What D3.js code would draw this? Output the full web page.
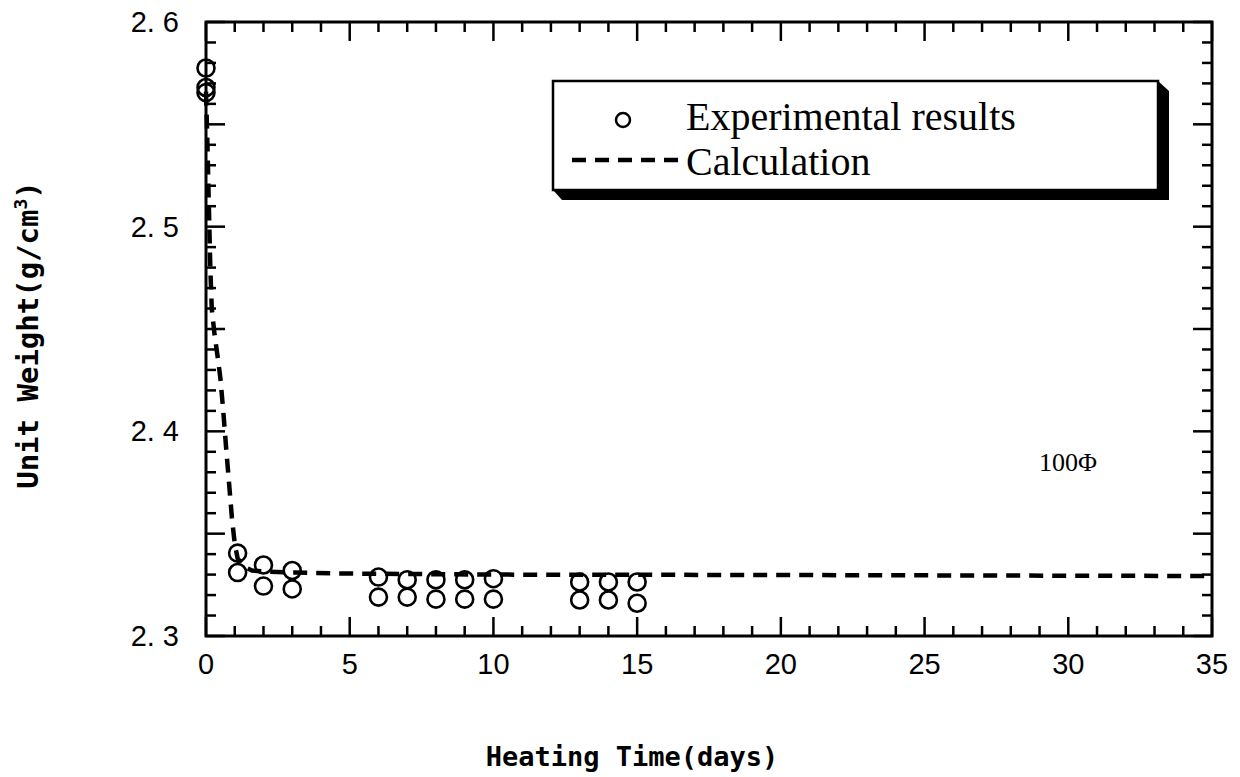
<!DOCTYPE html>
<meta charset="utf-8">
<style>
  body { margin: 0; background: #fff; }
  svg { position: absolute; left: 0; top: 0; }
  .tick-label { font-family: 'Liberation Sans', sans-serif; font-size: 29px; fill: #000; }
  .axis-title { font-family: 'DejaVu Sans Mono', monospace; font-weight: bold; font-size: 27px; fill: #000; }
  .legend-text { font-family: 'Liberation Serif', serif; font-size: 40px; fill: #000; }
</style>
<script src="https://d3js.org/d3.v7.min.js"></script>

<svg width="1240" height="777"></svg>

<script>
  // experimental results (heating time in days, unit weight g/cm3)
  var expDays = [0, 0, 0, 1.1, 1.1, 2, 2, 3, 3, 6, 6, 7, 7, 8, 8, 9, 9, 10, 10, 13, 13, 14, 14, 15, 15];
  var expVals = [2.5775, 2.568, 2.5655, 2.3405, 2.331, 2.3347, 2.3244, 2.332, 2.323,
                 2.3288, 2.319, 2.3275, 2.319, 2.3275, 2.318, 2.3275, 2.318, 2.328, 2.318,
                 2.3264, 2.3176, 2.3264, 2.3176, 2.3264, 2.316];

  // calculation curve
  var calcDays = [0, 0.05, 0.1, 0.15, 0.2, 0.3, 0.4, 0.5, 0.6, 0.7, 0.8, 0.9, 1.0, 1.1, 1.3, 1.6, 2, 3, 5, 10, 20, 35];
  var calcVals = [2.566, 2.54, 2.51, 2.48, 2.46, 2.447, 2.437, 2.426, 2.41, 2.392, 2.375, 2.358, 2.345,
                  2.338, 2.334, 2.332, 2.3315, 2.331, 2.3305, 2.330, 2.3298, 2.3293];

  var xTicks = [0, 5, 10, 15, 20, 25, 30, 35];
  var yTicks = [2.3, 2.4, 2.5, 2.6];
  var yTickText = ["2. 3", "2. 4", "2. 5", "2. 6"];

  var svg = d3.select("svg");
  var x = d3.scaleLinear().domain([0, 35]).range([206, 1212]);
  var y = d3.scaleLinear().domain([2.3, 2.6]).range([636, 22]);

  var x0 = x(0), x1 = x(35), y0 = y(2.3), y1 = y(2.6);

  // inside ticks on all four sides
  var minorX = d3.range(0, 36, 1);
  var ticks = svg.append("g").attr("stroke", "#000").attr("stroke-width", 2.5);
  minorX.forEach(function(d) {
    var len = d % 5 === 0 ? 19 : 10;
    ticks.append("line").attr("x1", x(d)).attr("x2", x(d)).attr("y1", y0).attr("y2", y0 - len);
    ticks.append("line").attr("x1", x(d)).attr("x2", x(d)).attr("y1", y1).attr("y2", y1 + len);
  });
  var minorY = d3.range(0, 31, 1).map(function(i) { return 2.3 + i * 0.01; });
  minorY.forEach(function(d, i) {
    var len = i % 5 === 0 ? 19 : 10;
    ticks.append("line").attr("x1", x0).attr("x2", x0 + len).attr("y1", y(d)).attr("y2", y(d));
    ticks.append("line").attr("x1", x1).attr("x2", x1 - len).attr("y1", y(d)).attr("y2", y(d));
  });

  // frame
  svg.append("rect")
    .attr("x", x0).attr("y", y1)
    .attr("width", x1 - x0).attr("height", y0 - y1)
    .attr("fill", "none").attr("stroke", "#000").attr("stroke-width", 3);

  // tick labels
  svg.selectAll(".xl").data(xTicks).enter().append("text")
    .attr("class", "tick-label")
    .attr("x", function(d) { return x(d); })
    .attr("y", 674)
    .attr("text-anchor", "middle")
    .text(function(d) { return d; });

  svg.selectAll(".yl").data(yTicks).enter().append("text")
    .attr("class", "tick-label")
    .attr("x", 179)
    .attr("y", function(d) { return y(d) + 10; })
    .attr("text-anchor", "end")
    .text(function(d, i) { return yTickText[i]; });

  // axis titles
  svg.append("text")
    .attr("class", "axis-title")
    .attr("x", 632).attr("y", 766)
    .attr("text-anchor", "middle")
    .text("Heating Time(days)");

  var yt = svg.append("text")
    .attr("class", "axis-title")
    .style("font-size", "29px")
    .attr("transform", "translate(38,335) rotate(-90)")
    .attr("text-anchor", "middle");
  yt.append("tspan").text("Unit Weight(g/cm");
  yt.append("tspan").attr("dy", -11).style("font-size", "18px").text("3");
  yt.append("tspan").attr("dy", 11).text(")");

  // calculation line
  var line = d3.line()
    .x(function(d, i) { return x(calcDays[i]); })
    .y(function(d) { return y(d); });
  svg.append("path")
    .attr("d", line(calcVals))
    .attr("fill", "none")
    .attr("stroke", "#000")
    .attr("stroke-width", 4.5)
    .attr("stroke-dasharray", "14,9");

  // experimental points
  svg.selectAll(".pt").data(expVals).enter().append("circle")
    .attr("cx", function(d, i) { return x(expDays[i]); })
    .attr("cy", function(d) { return y(d); })
    .attr("r", 8.5)
    .attr("fill", "none")
    .attr("stroke", "#000")
    .attr("stroke-width", 2.6);

  // legend box with shadow
  var lg = svg.append("g");
  lg.append("path")
    .attr("d", "M1158,81 L1169,91 L1169,200 L562,200 L553,190 L1158,190 Z")
    .attr("fill", "#000");
  lg.append("rect")
    .attr("x", 553).attr("y", 81).attr("width", 605).attr("height", 109)
    .attr("fill", "#fff").attr("stroke", "#000").attr("stroke-width", 2.5);
  lg.append("circle")
    .attr("cx", 623).attr("cy", 120).attr("r", 7)
    .attr("fill", "none").attr("stroke", "#000").attr("stroke-width", 2.5);
  lg.append("text").attr("class", "legend-text")
    .attr("x", 686).attr("y", 130)
    .text("Experimental results");
  lg.append("line")
    .attr("x1", 572).attr("x2", 679).attr("y1", 160).attr("y2", 160)
    .attr("stroke", "#000").attr("stroke-width", 4.5).attr("stroke-dasharray", "14,9");
  lg.append("text").attr("class", "legend-text")
    .attr("x", 686).attr("y", 175)
    .text("Calculation");

  // specimen size
  svg.append("text")
    .attr("x", 1039).attr("y", 471)
    .attr("font-family", "'Liberation Serif', serif")
    .attr("font-size", 26)
    .text("100Φ");
</script>
